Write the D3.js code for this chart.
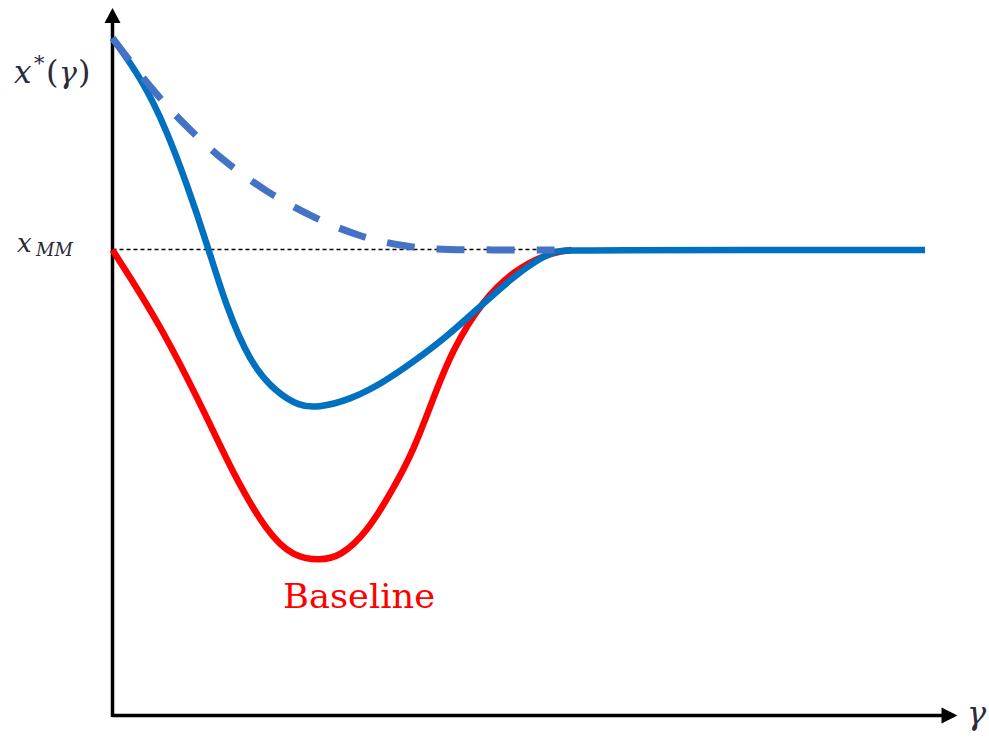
<!DOCTYPE html>
<html>
<head>
<meta charset="utf-8">
<script src="https://cdn.jsdelivr.net/npm/d3@7"></script>
<style>
  html, body { margin: 0; padding: 0; background: #ffffff; }
  svg { display: block; }
</style>
</head>
<body>
<svg id="chart" width="989" height="737"></svg>
<script>
// γ values and x*(γ) values (x_MM = 1)
const baselineGamma = [0, 0.058, 0.116, 0.148, 0.190, 0.222, 0.255, 0.280, 0.313, 0.345, 0.371, 0.394, 0.418, 0.456, 0.495, 0.532, 0.553, 0.565];
const baselineX     = [1.000, 0.843, 0.642, 0.521, 0.393, 0.341, 0.333, 0.341, 0.393, 0.485, 0.571, 0.678, 0.785, 0.893, 0.957, 0.989, 0.998, 1.000];

const solidGamma = [0, 0.037, 0.0665, 0.091, 0.116, 0.140, 0.169, 0.202, 0.230, 0.252, 0.292, 0.333, 0.369, 0.411, 0.452, 0.493, 0.526, 0.547, 0.563, 1.0];
const solidX     = [1.455, 1.365, 1.258, 1.144, 1.015, 0.878, 0.758, 0.693, 0.665, 0.661, 0.678, 0.715, 0.758, 0.813, 0.878, 0.942, 0.983, 0.998, 1.000, 1.000];

const dashedGamma = [0, 0.049, 0.091, 0.138, 0.190, 0.245, 0.304, 0.366, 0.427, 0.544];
const dashedX     = [1.455, 1.343, 1.264, 1.189, 1.124, 1.071, 1.028, 1.004, 1.000, 1.000];

const xMM = 1.0;
const refLineEnd = 0.555;
const baselineLabel = "Baseline";

const svg = d3.select("#chart");

const x = d3.scaleLinear().domain([0, 1]).range([112.5, 925]);
const y = d3.scaleLinear().domain([0, 1]).range([715.5, 250]);

const xAxisEnd = 1.04;   // arrow tip on the γ axis
const yAxisEnd = 1.52;   // arrow tip on the x*(γ) axis

const toPts = (g, v) => g.map((d, i) => [d, v[i]]);
const line = d3.line().x(d => x(d[0])).y(d => y(d[1])).curve(d3.curveBasis);

// reference level x_MM
svg.append("line")
  .attr("x1", x(0)).attr("x2", x(refLineEnd))
  .attr("y1", y(xMM) - 0.5).attr("y2", y(xMM) - 0.5)
  .attr("stroke", "#000").attr("stroke-width", 1.3)
  .attr("stroke-dasharray", "4,3");

// axes with arrowheads
const axisG = svg.append("g");
axisG.append("line")
  .attr("x1", x(0)).attr("x2", x(xAxisEnd) - 12)
  .attr("y1", y(0)).attr("y2", y(0))
  .attr("stroke", "#000").attr("stroke-width", 3.5);
axisG.append("line")
  .attr("x1", x(0)).attr("x2", x(0))
  .attr("y1", y(0) + 1.5).attr("y2", y(yAxisEnd) + 12)
  .attr("stroke", "#000").attr("stroke-width", 3.5);
const xt = x(xAxisEnd), yt = y(0);
axisG.append("path")
  .attr("d", `M${xt},${yt} L${xt - 16},${yt - 8} L${xt - 16},${yt + 8} Z`)
  .attr("fill", "#000");
const ax = x(0), ay = y(yAxisEnd);
axisG.append("path")
  .attr("d", `M${ax},${ay} L${ax - 8},${ay + 15} L${ax + 8},${ay + 15} Z`)
  .attr("fill", "#000");

// curves
svg.append("path")
  .datum(toPts(baselineGamma, baselineX))
  .attr("d", line)
  .attr("fill", "none").attr("stroke", "#ff0000").attr("stroke-width", 6.5)
  .attr("stroke-linejoin", "round");

svg.append("path")
  .datum(toPts(solidGamma, solidX))
  .attr("d", line)
  .attr("fill", "none").attr("stroke", "#0070c0").attr("stroke-width", 6.5)
  .attr("stroke-linejoin", "round");

svg.append("path")
  .datum(toPts(dashedGamma, dashedX))
  .attr("d", line)
  .attr("fill", "none").attr("stroke", "#4472c4").attr("stroke-width", 7)
  .attr("stroke-dasharray", "28,22");

// labels
const mathColor = "#2b2b3b";
const mathFont = "DejaVu Serif";

const yLab = svg.append("text")
  .attr("y", 83)
  .attr("font-family", mathFont).attr("fill", mathColor);
yLab.append("tspan").attr("x", 14).attr("font-style", "italic").attr("font-size", 31).text("x");
yLab.append("tspan").attr("x", 34).attr("dy", -13).attr("font-size", 21).text("*");
yLab.append("tspan").attr("x", 46).attr("dy", 13).attr("font-size", 32).text("(");
yLab.append("tspan").attr("x", 59).attr("font-style", "italic").attr("font-size", 30).text("γ");
yLab.append("tspan").attr("x", 78).attr("font-size", 32).text(")");

const mmLab = svg.append("text")
  .attr("y", y(xMM) + 2)
  .attr("font-family", mathFont).attr("fill", mathColor);
mmLab.append("tspan").attr("x", 17).attr("font-style", "italic").attr("font-size", 26).text("x");
mmLab.append("tspan").attr("x", 36).attr("dy", 4).attr("font-style", "italic").attr("font-size", 18).text("MM");

svg.append("text")
  .attr("x", 967).attr("y", 724)
  .attr("font-family", mathFont).attr("font-style", "italic")
  .attr("font-size", 32).attr("fill", mathColor)
  .text("γ");

svg.append("text")
  .attr("x", 283).attr("y", 608)
  .attr("font-family", "DejaVu Serif")
  .attr("font-size", 33).attr("fill", "#ff0000")
  .attr("textLength", 152).attr("lengthAdjust", "spacingAndGlyphs")
  .text(baselineLabel);
</script>
</body>
</html>
